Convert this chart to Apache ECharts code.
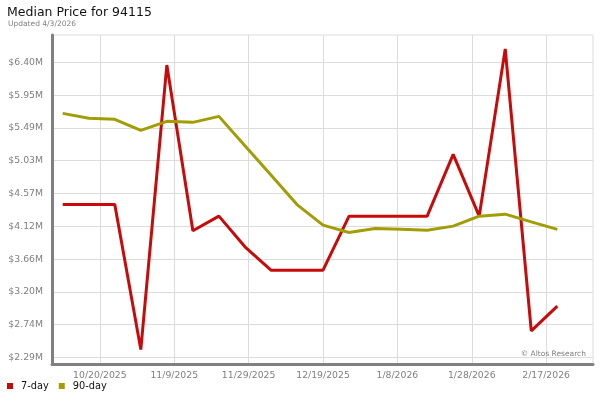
<!DOCTYPE html>
<html>
<head>
<meta charset="utf-8">
<script src="https://cdn.jsdelivr.net/npm/echarts@6/dist/echarts.min.js"></script>
<style>
html,body{margin:0;padding:0;background:#fff;}
#chart{width:600px;height:400px;}
</style>
</head>
<body>
<div id="chart"></div>
<script>
// ---- data ----
const DATES = ['2025-10-10','2025-10-17','2025-10-24','2025-10-31','2025-11-07','2025-11-14','2025-11-21','2025-11-28',
  '2025-12-05','2025-12-12','2025-12-19','2025-12-26','2026-01-02','2026-01-09','2026-01-16','2026-01-23',
  '2026-01-30','2026-02-06','2026-02-13','2026-02-20'];
const SEVEN_DAY = [4421000,4421000,4421000,2401000,6362000,4054000,4258000,3831000,
  3506000,3506000,3506000,4258000,4258000,4258000,4258000,5118000,
  4258000,6585000,2661000,3005000];
const NINETY_DAY = [5689000,5620000,5606000,5452000,5578000,5564000,5647000,5239000,
  4830000,4419000,4133000,4031000,4087000,4077000,4063000,4119000,
  4258000,4286000,4179000,4073000];
const X_TICKS = ['2025-10-20','2025-11-09','2025-11-29','2025-12-19','2026-01-08','2026-01-28','2026-02-17'];
const Y_TICKS = [2290000,2746667,3203333,3660000,4116667,4573333,5030000,5486667,5943333,6400000];
const Y_TICK_LABELS = ['$2.29M','$2.74M','$3.20M','$3.66M','$4.12M','$4.57M','$5.03M','$5.49M','$5.95M','$6.40M'];
const SERIES_NAMES = ['7-day','90-day'];
const TITLE = 'Median Price for 94115';
const SUBTITLE = 'Updated 4/3/2026';
const CREDIT = '\u00A9 Altos Research';

// ---- helpers ----
function ts(s){ const p=s.split('-').map(Number); return Date.UTC(p[0],p[1]-1,p[2]); }
function fmtDate(v){ const d=new Date(v); return (d.getUTCMonth()+1)+'/'+d.getUTCDate()+'/'+d.getUTCFullYear(); }
const DAY = 86400000;
const FONT = 'DejaVu Sans';

const chart = echarts.init(document.getElementById('chart'), null, {renderer:'canvas'});
const xTickVals = X_TICKS.map(ts);
const option = {
  animation:false,
  backgroundColor:'#fff',
  textStyle:{fontFamily:FONT},
  title:[
    {text:TITLE,left:7,top:6,padding:0,textStyle:{fontFamily:FONT,fontSize:12.5,fontWeight:'normal',color:'#111'}},
    {text:SUBTITLE,left:8,top:20,padding:0,textStyle:{fontFamily:FONT,fontSize:7.5,fontWeight:'normal',color:'#808080'}},
    {text:CREDIT,right:14,top:350,padding:0,textStyle:{fontFamily:FONT,fontSize:7.5,fontWeight:'normal',color:'#808080'}}
  ],
  legend:{
    data:SERIES_NAMES,left:7,top:381,padding:0,itemGap:10,
    icon:'rect',itemWidth:6,itemHeight:6,
    textStyle:{fontFamily:FONT,fontSize:9.8,color:'#111',padding:[0,0,0,3]}
  },
  grid:{left:52,top:35,right:7,bottom:36,show:true,borderColor:'#dcdcdc',borderWidth:1,containLabel:false},
  xAxis:{
    type:'value',
    min:ts(DATES[0])-2.88*DAY,
    max:ts(DATES[DATES.length-1])+9.6*DAY,
    axisLine:{show:true,lineStyle:{color:'#808080',width:3}},
    axisTick:{show:false,customValues:xTickVals},
    axisLabel:{customValues:xTickVals,formatter:fmtDate,color:'#808080',fontFamily:FONT,fontSize:9.3,margin:7},
    splitLine:{show:true,lineStyle:{color:'#dcdcdc',width:1}}
  },
  yAxis:{
    type:'value',
    min:2199400,max:6780000,
    axisLine:{show:true,onZero:false,lineStyle:{color:'#808080',width:3}},
    axisTick:{show:false,customValues:Y_TICKS},
    axisLabel:{customValues:Y_TICKS,color:'#808080',fontFamily:FONT,fontSize:9.3,margin:9,
      formatter:function(v){ let best=0,bd=Infinity; Y_TICKS.forEach((t,i)=>{const d=Math.abs(t-v); if(d<bd){bd=d;best=i;}}); return Y_TICK_LABELS[best]; }},
    splitLine:{show:true,lineStyle:{color:'#dcdcdc',width:1}}
  },
  series:[
    {name:SERIES_NAMES[0],type:'line',symbol:'none',color:'#c80a0a',lineStyle:{width:3,color:'#c80a0a'},
     data:DATES.map((d,i)=>[ts(d),SEVEN_DAY[i]])},
    {name:SERIES_NAMES[1],type:'line',symbol:'none',color:'#a39d05',lineStyle:{width:3,color:'#a39d05'},
     data:DATES.map((d,i)=>[ts(d),NINETY_DAY[i]])}
  ]
};
chart.setOption(option);
</script>
</body>
</html>
